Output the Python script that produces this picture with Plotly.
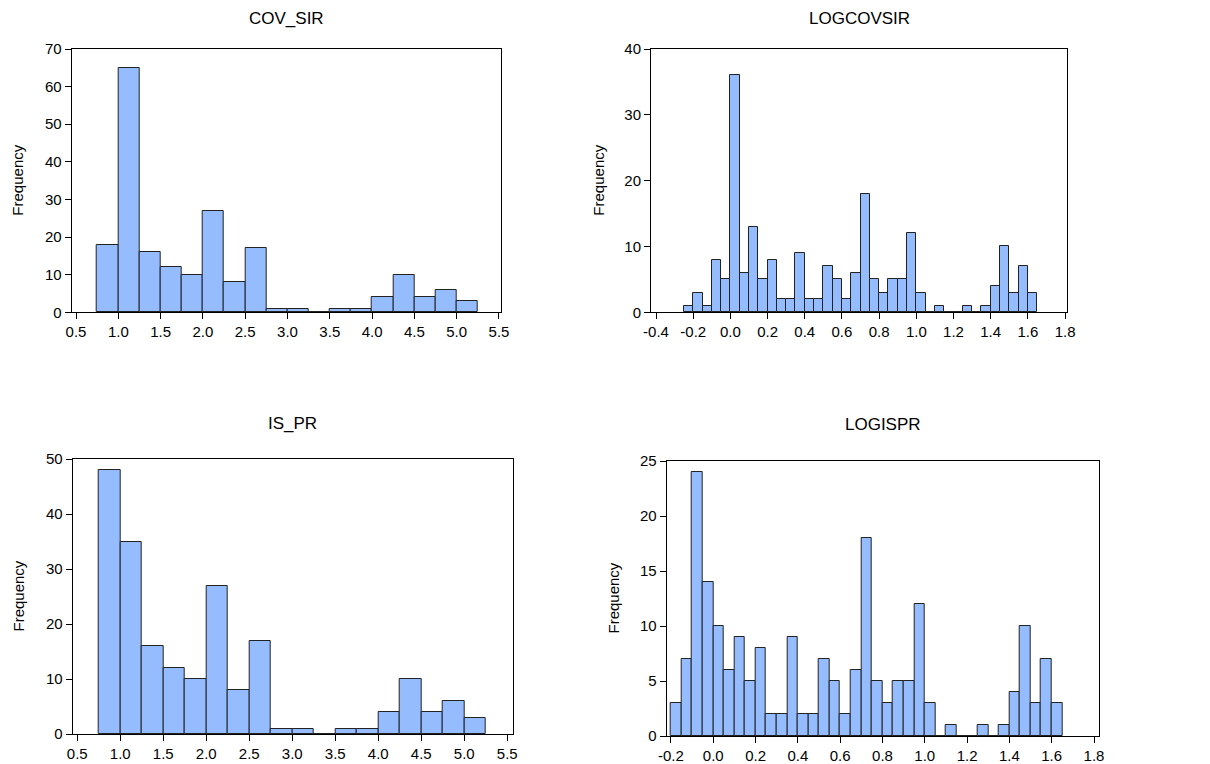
import numpy as np
import plotly.graph_objects as go

# ---------------- data ----------------
cov_sir_start = 0.75
cov_sir_width = 0.25
cov_sir_counts = [18, 65, 16, 12, 10, 27, 8, 17, 1, 1, 0, 1, 1, 4, 10, 4, 6, 3]

is_pr_start = 0.75
is_pr_width = 0.25
is_pr_counts = [48, 35, 16, 12, 10, 27, 8, 17, 1, 1, 0, 1, 1, 4, 10, 4, 6, 3]

logcovsir_start = -0.25
logcovsir_width = 0.05
logcovsir_counts = [1, 3, 1, 8, 5, 36, 6, 13, 5, 8, 2, 2, 9, 2, 2, 7, 5, 2, 6, 18,
                    5, 3, 5, 5, 12, 3, 0, 1, 0, 0, 1, 0, 1, 4, 10, 3, 7, 3]

logispr_start = -0.20
logispr_width = 0.05
logispr_counts = [3, 7, 24, 14, 10, 6, 9, 5, 8, 2, 2, 9, 2, 2, 7, 5, 2, 6, 18,
                  5, 3, 5, 5, 12, 3, 0, 1, 0, 0, 1, 0, 1, 4, 10, 3, 7, 3]

titles = ["COV_SIR", "LOGCOVSIR", "IS_PR", "LOGISPR"]

lin_ticks = [0.5, 1.0, 1.5, 2.0, 2.5, 3.0, 3.5, 4.0, 4.5, 5.0, 5.5]
lin_ticktext = ["0.5", "1.0", "1.5", "2.0", "2.5", "3.0", "3.5", "4.0", "4.5", "5.0", "5.5"]
log1_ticks = [-0.4, -0.2, 0.0, 0.2, 0.4, 0.6, 0.8, 1.0, 1.2, 1.4, 1.6, 1.8]
log1_ticktext = ["-0.4", "-0.2", "0.0", "0.2", "0.4", "0.6", "0.8", "1.0", "1.2", "1.4", "1.6", "1.8"]
log2_ticks = [-0.2, 0.0, 0.2, 0.4, 0.6, 0.8, 1.0, 1.2, 1.4, 1.6, 1.8]
log2_ticktext = ["-0.2", "0.0", "0.2", "0.4", "0.6", "0.8", "1.0", "1.2", "1.4", "1.6", "1.8"]

# ---------------- layout geometry (pixels in the screenshot) ----------------
W, H = 1210, 764
OFF = 8  # page body margin: figure is drawn 8px right/down of the window corner
FONT = "Liberation Sans, Arial, sans-serif"
BAR_COLOR = "#94BCFF"
EDGE = "#222222"

panels = [
    dict(start=cov_sir_start, width=cov_sir_width, counts=cov_sir_counts,
         box=(71.7, 501.0, 49.0, 312.3), xr=[0.449, 5.524], yr=[0, 70], ydt=10,
         xt=lin_ticks, xtt=lin_ticktext, title_xy=(286, 15), freq_x=18),
    dict(start=logcovsir_start, width=logcovsir_width, counts=logcovsir_counts,
         box=(651.0, 1067.3, 49.0, 312.3), xr=[-0.427, 1.812], yr=[0, 40], ydt=10,
         xt=log1_ticks, xtt=log1_ticktext, title_xy=(859, 15), freq_x=599),
    dict(start=is_pr_start, width=is_pr_width, counts=is_pr_counts,
         box=(72.7, 512.7, 459.0, 734.0), xr=[0.447, 5.563], yr=[0, 50], ydt=10,
         xt=lin_ticks, xtt=lin_ticktext, title_xy=(292, 423), freq_x=18),
    dict(start=logispr_start, width=logispr_width, counts=logispr_counts,
         box=(666.7, 1099.3, 461.0, 736.0), xr=[-0.220, 1.825], yr=[0, 25], ydt=5,
         xt=log2_ticks, xtt=log2_ticktext, title_xy=(883, 424), freq_x=613),
]


def px(x):
    return (x - OFF) / W


def py(y):
    return 1 - (y - OFF) / H


fig = go.Figure()
annotations = []
for i, p in enumerate(panels):
    n = i + 1
    xa = "x" if n == 1 else f"x{n}"
    ya = "y" if n == 1 else f"y{n}"
    counts = np.array(p["counts"], dtype=float)
    centers = p["start"] + p["width"] * (np.arange(len(counts)) + 0.5)
    fig.add_trace(go.Bar(
        x=centers, y=counts, width=p["width"],
        marker=dict(color=BAR_COLOR, line=dict(color=EDGE, width=1)),
        xaxis=xa, yaxis=ya, showlegend=False, hoverinfo="x+y",
    ))
    l, r, t, b = p["box"]
    xdom = [px(l), px(r)]
    ydom = [py(b), py(t)]
    axis_common = dict(showline=True, linecolor="black", linewidth=1, mirror=True,
                       ticks="outside", tickcolor="black", ticklen=6, tickwidth=1,
                       showgrid=False, zeroline=False, automargin=False,
                       tickfont=dict(family=FONT, size=15, color="black"))
    fig.update_layout(**{
        ("xaxis" if n == 1 else f"xaxis{n}"): dict(
            domain=xdom, range=p["xr"], anchor=ya, tickmode="array",
            tickvals=p["xt"], ticktext=p["xtt"], **axis_common),
        ("yaxis" if n == 1 else f"yaxis{n}"): dict(
            domain=ydom, range=p["yr"], anchor=xa, dtick=p["ydt"], tick0=0,
            **axis_common),
    })
    tx, ty = p["title_xy"]
    if ty - OFF < 12:
        # keep the title box inside the figure: pin its top to the figure edge
        annotations.append(dict(text=titles[i], x=px(tx), y=1.0, xref="paper", yref="paper",
                                showarrow=False, xanchor="center", yanchor="top", borderpad=0,
                                font=dict(family=FONT, size=17, color="black")))
    else:
        annotations.append(dict(text=titles[i], x=px(tx), y=py(ty), xref="paper", yref="paper",
                                showarrow=False, xanchor="center", yanchor="middle",
                                font=dict(family=FONT, size=17, color="black")))
    annotations.append(dict(text="Frequency", x=px(p["freq_x"]), y=py((t + b) / 2),
                            xref="paper", yref="paper", textangle=-90,
                            showarrow=False, xanchor="center", yanchor="middle",
                            font=dict(family=FONT, size=15, color="black")))

fig.update_layout(
    template="none",
    width=W, height=H, margin=dict(l=0, r=0, t=0, b=0, autoexpand=False),
    paper_bgcolor="white", plot_bgcolor="white", bargap=0,
    annotations=annotations,
)

fig.write_html("out.html")
